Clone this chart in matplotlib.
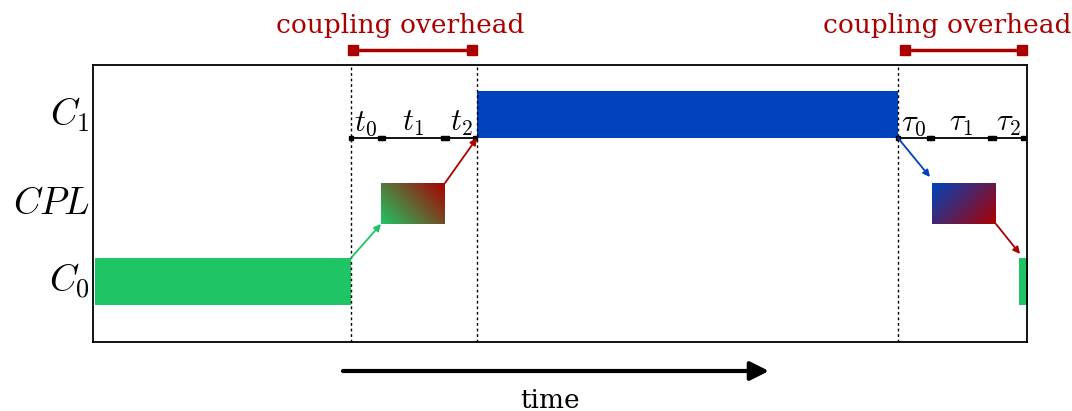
import numpy as np
import matplotlib.pyplot as plt
from matplotlib.colors import LinearSegmentedColormap

plt.rcParams["mathtext.fontset"] = "cm"

# time values (arbitrary units)
c0_runs = [(0.2, 25.8), (92.6, 94.0)]
cpl_runs = [(28.8, 35.2), (83.9, 90.3)]
c1_runs = [(38.4, 80.5)]
switches = [25.8, 38.4, 80.5]
overhead = [(26.0, 37.9), (81.2, 92.9)]
t_phases = [(25.8, 28.7), (29.0, 35.0), (35.4, 38.2)]
tau_phases = [(80.5, 83.6), (83.9, 89.7), (90.1, 93.0)]
t_labels = [r"$t_0$", r"$t_1$", r"$t_2$"]
tau_labels = [r"$\tau_0$", r"$\tau_1$", r"$\tau_2$"]
row_labels = [r"$C_0$", r"$CPL$", r"$C_1$"]

green = "#1fc564"
blue = "#0043bc"
red = "#aa0000"

# row bands (y extents)
y_c0 = (3.7, 8.4)
y_cpl = (11.8, 15.9)
y_c1 = (20.4, 25.1)

fig = plt.figure(figsize=(10.72, 4.11), dpi=100)
ax = fig.add_axes([93 / 1072, 69 / 411, 934 / 1072, 277 / 411])
ax.set_xticks([])
ax.set_yticks([])
for s in ax.spines.values():
    s.set_linewidth(1.3)

for a, b in c0_runs:
    ax.fill_between([a, b], y_c0[0], y_c0[1], color=green, lw=0)
for a, b in c1_runs:
    ax.fill_between([a, b], y_c1[0], y_c1[1], color=blue, lw=0)


def gradient_box(x0, x1, c_from, c_to, down):
    u = np.linspace(0, 1, 200)[None, :]
    v = np.linspace(0, 1, 100)[:, None]  # row 0 = top
    if down:
        t = (u + 0.6 * v) / 1.6
    else:
        t = (u + 0.6 * (1 - v)) / 1.6
    cmap = LinearSegmentedColormap.from_list("g", [c_from, c_to])
    ax.imshow(t, cmap=cmap, extent=(x0, x1, y_cpl[0], y_cpl[1]),
              aspect="auto", origin="upper", interpolation="bilinear")


gradient_box(cpl_runs[0][0], cpl_runs[0][1], green, red, False)
gradient_box(cpl_runs[1][0], cpl_runs[1][1], blue, red, True)
ax.set_xlim(0, 93.4)
ax.set_ylim(0, 27.7)

for x in switches:
    ax.axvline(x, color="black", ls=(0, (2, 2)), lw=1)

# phase segments
for phases, labels in [(t_phases, t_labels), (tau_phases, tau_labels)]:
    for (a, b), lab in zip(phases, labels):
        ax.plot([a, b], [y_c1[0], y_c1[0]], color="black", lw=1.3,
                marker="s", ms=3, clip_on=False)
        ax.text((a + b) / 2, 21.9, lab, ha="center", va="center", fontsize=22)

# transitions
arrows = [
    ((c0_runs[0][1], y_c0[1]), (cpl_runs[0][0], y_cpl[0]), green),
    ((cpl_runs[0][1], y_cpl[1]), (c1_runs[0][0], y_c1[0]), red),
    ((c1_runs[0][1], y_c1[0]), (83.7, 16.5), blue),
    ((cpl_runs[1][1], y_cpl[0]), (92.7, 8.8), red),
]
for start, end, col in arrows:
    ax.annotate("", xy=end, xytext=start,
                arrowprops=dict(arrowstyle="-|>", color=col, lw=1.3,
                                mutation_scale=10, shrinkA=0, shrinkB=0),
                annotation_clip=False)

# coupling overhead brackets
for a, b in overhead:
    ax.plot([a, b], [29.2, 29.2], color=red, lw=2.5, marker="s", ms=7,
            clip_on=False)
ax.text(30.7, 31.6, "coupling overhead", color=red, ha="center", va="center",
        fontsize=19, family="DejaVu Serif")
ax.text(85.4, 31.6, "coupling overhead", color=red, ha="center", va="center",
        fontsize=19, family="DejaVu Serif")

# row labels
for lab, (lo, hi) in zip(row_labels, [y_c0, y_cpl, y_c1]):
    ax.text(-0.3, (lo + hi) / 2, lab, ha="right", va="center", fontsize=27)

# time arrow
ax.annotate("", xy=(67.6, -2.9), xytext=(25.0, -2.9),
            arrowprops=dict(arrowstyle="-|>", color="black", lw=3,
                            mutation_scale=28, shrinkA=0, shrinkB=0),
            annotation_clip=False)
ax.text(45.7, -5.8, "time", ha="center", va="center", fontsize=19,
        family="DejaVu Serif")

fig.savefig("out.png", dpi=100)
